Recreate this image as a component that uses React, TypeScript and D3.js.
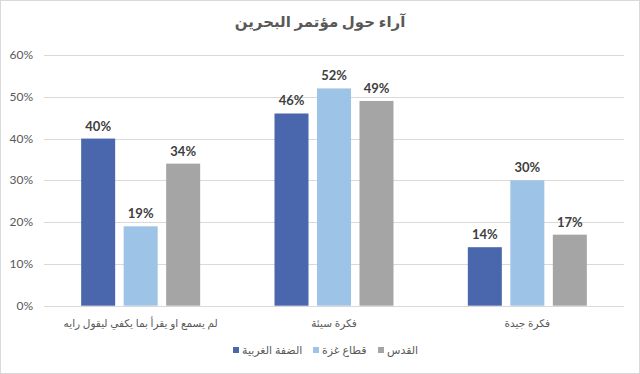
import React from "react";
import * as d3 from "d3";

const categories = ["لم يسمع او يقرأ بما يكفي ليقول رايه", "فكرة سيئة", "فكرة جيدة"];
const seriesNames = ["الضفة الغربية", "قطاع غزة", "القدس"];
const westBank = [40, 46, 14];
const gaza = [19, 52, 30];
const jerusalem = [34, 49, 17];
const yTicks = [0, 10, 20, 30, 40, 50, 60];
const title = "آراء حول مؤتمر البحرين";

const colors = ["#4a66ac", "#9dc3e6", "#a5a5a5"];
const W = 640;
const H = 374;
const FONT = "Lato, 'DejaVu Sans', sans-serif";

export default function App() {
  const series = [westBank, gaza, jerusalem];
  const x = d3.scaleBand<string>().domain(categories).range([44, 624]).padding(0);
  const y = d3.scaleLinear().domain([0, 60]).range([305.7, 55]);
  const groupW = 119;
  const inner = d3
    .scaleBand<number>()
    .domain([0, 1, 2])
    .range([0, groupW])
    .paddingInner(0.2)
    .paddingOuter(0);

  const legendItems = [
    { sq: 233, tx: 242 },
    { sq: 313, tx: 322 },
    { sq: 378, tx: 387 },
  ];

  return (
    <svg
      width={W}
      height={H}
      style={{ position: "absolute", left: 0, top: 0, background: "#fff" }}
      fontFamily={FONT}
    >
      <rect x={0.5} y={0.5} width={W - 1} height={H - 1} fill="#fff" stroke="#d9d9d9" />
      <text x={320} y={27} textAnchor="middle" fontSize={15} fontWeight="bold" fill="#595959">
        {title}
      </text>
      {yTicks.map((t) => (
        <g key={t}>
          <line x1={44} x2={624} y1={Math.round(y(t)) + 0.5} y2={Math.round(y(t)) + 0.5} stroke="#d9d9d9" />
          <text x={33} y={y(t) + 4} textAnchor="end" fontSize={12} fill="#595959">
            {t}%
          </text>
        </g>
      ))}
      {categories.map((c, ci) => {
        const start = (x(c) as number) + x.bandwidth() / 2 - groupW / 2;
        return (
          <g key={c}>
            {series.map((s, si) => {
              const bx = start + (inner(si) as number);
              const by = y(s[ci]);
              return (
                <g key={si}>
                  <rect x={bx} y={by} width={inner.bandwidth()} height={y(0) - by} fill={colors[si]} />
                  <text
                    x={bx + inner.bandwidth() / 2}
                    y={by - 8}
                    textAnchor="middle"
                    fontSize={13}
                    fontWeight="bold"
                    fill="#404040"
                  >
                    {s[ci]}%
                  </text>
                </g>
              );
            })}
            <text
              x={(x(c) as number) + x.bandwidth() / 2}
              y={327}
              textAnchor="middle"
              fontSize={10.5}
              fill="#595959"
              direction="rtl"
            >
              {c}
            </text>
          </g>
        );
      })}
      {seriesNames.map((n, i) => (
        <g key={n}>
          <rect x={legendItems[i].sq} y={347} width={6} height={6} fill={colors[i]} />
          <text x={legendItems[i].tx} y={354} fontSize={11} fill="#595959" textAnchor="start">
            {n}
          </text>
        </g>
      ))}
    </svg>
  );
}
